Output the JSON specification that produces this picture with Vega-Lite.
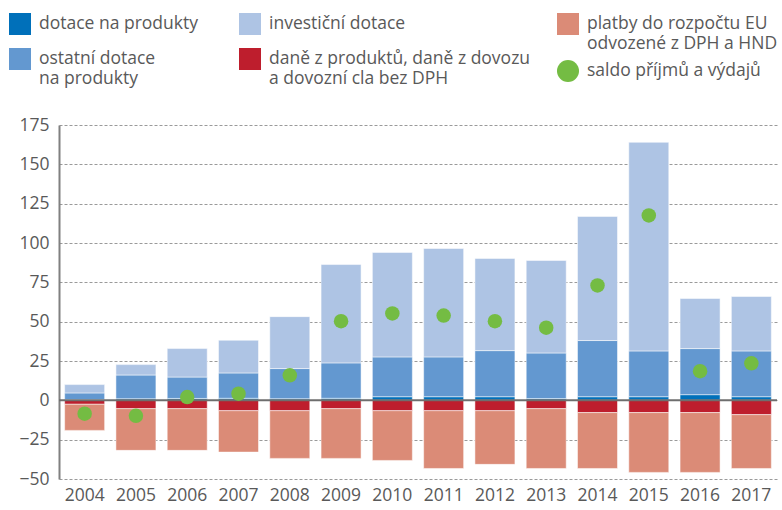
{
  "$schema": "https://vega.github.io/schema/vega-lite/v6.json",
  "width": 718,
  "height": 354,
  "autosize": {"type": "none"},
  "padding": {"left": 59, "top": 125, "right": 5, "bottom": 31},
  "background": "white",
  "config": {
    "font": "Open Sans",
    "view": {"stroke": null},
    "axis": {"labelFont": "Open Sans", "labelFontSize": 17.5, "labelColor": "#595959", "title": null},
    "axisX": {"labelAngle": 0, "domain": false, "ticks": false, "tickSize": 0, "labelPadding": 7, "grid": false},
    "axisY": {"grid": true, "gridDash": [3, 2], "gridColor": "#9a9a9a", "gridWidth": 1,
              "domainColor": "#808080", "domainWidth": 2, "ticks": false, "tickSize": 0, "labelPadding": 10, "labelOverlap": false},
    "legend": {"labelFont": "Open Sans", "labelFontSize": 17.5, "labelColor": "#595959", "labelLimit": 400, "title": null}
  },
  "datasets": {
    "bars": [
      {"year": "2004", "series": "dotace na produkty", "ord": 1, "value": 0.5},
      {"year": "2004", "series": "ostatní dotace|na produkty", "ord": 2, "value": 4.2},
      {"year": "2004", "series": "investiční dotace", "ord": 3, "value": 5.3},
      {"year": "2004", "series": "daně z produktů, daně z dovozu|a dovozní cla bez DPH", "ord": 4, "value": -2.5},
      {"year": "2004", "series": "platby do rozpočtu EU|odvozené z DPH a HND", "ord": 5, "value": -16.6},
      {"year": "2005", "series": "dotace na produkty", "ord": 1, "value": 1.0},
      {"year": "2005", "series": "ostatní dotace|na produkty", "ord": 2, "value": 15.1},
      {"year": "2005", "series": "investiční dotace", "ord": 3, "value": 6.6},
      {"year": "2005", "series": "daně z produktů, daně z dovozu|a dovozní cla bez DPH", "ord": 4, "value": -5.3},
      {"year": "2005", "series": "platby do rozpočtu EU|odvozené z DPH a HND", "ord": 5, "value": -26.5},
      {"year": "2006", "series": "dotace na produkty", "ord": 1, "value": 1.2},
      {"year": "2006", "series": "ostatní dotace|na produkty", "ord": 2, "value": 13.6},
      {"year": "2006", "series": "investiční dotace", "ord": 3, "value": 18.1},
      {"year": "2006", "series": "daně z produktů, daně z dovozu|a dovozní cla bez DPH", "ord": 4, "value": -5.3},
      {"year": "2006", "series": "platby do rozpočtu EU|odvozené z DPH a HND", "ord": 5, "value": -26.5},
      {"year": "2007", "series": "dotace na produkty", "ord": 1, "value": 1.3},
      {"year": "2007", "series": "ostatní dotace|na produkty", "ord": 2, "value": 16.1},
      {"year": "2007", "series": "investiční dotace", "ord": 3, "value": 20.8},
      {"year": "2007", "series": "daně z produktů, daně z dovozu|a dovozní cla bez DPH", "ord": 4, "value": -6.6},
      {"year": "2007", "series": "platby do rozpočtu EU|odvozené z DPH a HND", "ord": 5, "value": -26.3},
      {"year": "2008", "series": "dotace na produkty", "ord": 1, "value": 1.0},
      {"year": "2008", "series": "ostatní dotace|na produkty", "ord": 2, "value": 19.2},
      {"year": "2008", "series": "investiční dotace", "ord": 3, "value": 33.0},
      {"year": "2008", "series": "daně z produktů, daně z dovozu|a dovozní cla bez DPH", "ord": 4, "value": -6.6},
      {"year": "2008", "series": "platby do rozpočtu EU|odvozené z DPH a HND", "ord": 5, "value": -30.3},
      {"year": "2009", "series": "dotace na produkty", "ord": 1, "value": 1.3},
      {"year": "2009", "series": "ostatní dotace|na produkty", "ord": 2, "value": 22.5},
      {"year": "2009", "series": "investiční dotace", "ord": 3, "value": 62.5},
      {"year": "2009", "series": "daně z produktů, daně z dovozu|a dovozní cla bez DPH", "ord": 4, "value": -5.3},
      {"year": "2009", "series": "platby do rozpočtu EU|odvozené z DPH a HND", "ord": 5, "value": -31.6},
      {"year": "2010", "series": "dotace na produkty", "ord": 1, "value": 2.3},
      {"year": "2010", "series": "ostatní dotace|na produkty", "ord": 2, "value": 25.3},
      {"year": "2010", "series": "investiční dotace", "ord": 3, "value": 66.4},
      {"year": "2010", "series": "daně z produktů, daně z dovozu|a dovozní cla bez DPH", "ord": 4, "value": -6.6},
      {"year": "2010", "series": "platby do rozpočtu EU|odvozené z DPH a HND", "ord": 5, "value": -31.6},
      {"year": "2011", "series": "dotace na produkty", "ord": 1, "value": 2.3},
      {"year": "2011", "series": "ostatní dotace|na produkty", "ord": 2, "value": 25.3},
      {"year": "2011", "series": "investiční dotace", "ord": 3, "value": 68.9},
      {"year": "2011", "series": "daně z produktů, daně z dovozu|a dovozní cla bez DPH", "ord": 4, "value": -6.6},
      {"year": "2011", "series": "platby do rozpočtu EU|odvozené z DPH a HND", "ord": 5, "value": -36.7},
      {"year": "2012", "series": "dotace na produkty", "ord": 1, "value": 2.3},
      {"year": "2012", "series": "ostatní dotace|na produkty", "ord": 2, "value": 29.3},
      {"year": "2012", "series": "investiční dotace", "ord": 3, "value": 58.6},
      {"year": "2012", "series": "daně z produktů, daně z dovozu|a dovozní cla bez DPH", "ord": 4, "value": -6.6},
      {"year": "2012", "series": "platby do rozpočtu EU|odvozené z DPH a HND", "ord": 5, "value": -34.1},
      {"year": "2013", "series": "dotace na produkty", "ord": 1, "value": 1.1},
      {"year": "2013", "series": "ostatní dotace|na produkty", "ord": 2, "value": 29.0},
      {"year": "2013", "series": "investiční dotace", "ord": 3, "value": 58.8},
      {"year": "2013", "series": "daně z produktů, daně z dovozu|a dovozní cla bez DPH", "ord": 4, "value": -5.3},
      {"year": "2013", "series": "platby do rozpočtu EU|odvozené z DPH a HND", "ord": 5, "value": -38.0},
      {"year": "2014", "series": "dotace na produkty", "ord": 1, "value": 2.3},
      {"year": "2014", "series": "ostatní dotace|na produkty", "ord": 2, "value": 35.7},
      {"year": "2014", "series": "investiční dotace", "ord": 3, "value": 78.9},
      {"year": "2014", "series": "daně z produktů, daně z dovozu|a dovozní cla bez DPH", "ord": 4, "value": -7.8},
      {"year": "2014", "series": "platby do rozpočtu EU|odvozené z DPH a HND", "ord": 5, "value": -35.5},
      {"year": "2015", "series": "dotace na produkty", "ord": 1, "value": 2.3},
      {"year": "2015", "series": "ostatní dotace|na produkty", "ord": 2, "value": 29.1},
      {"year": "2015", "series": "investiční dotace", "ord": 3, "value": 132.6},
      {"year": "2015", "series": "daně z produktů, daně z dovozu|a dovozní cla bez DPH", "ord": 4, "value": -7.8},
      {"year": "2015", "series": "platby do rozpočtu EU|odvozené z DPH a HND", "ord": 5, "value": -38.0},
      {"year": "2016", "series": "dotace na produkty", "ord": 1, "value": 3.6},
      {"year": "2016", "series": "ostatní dotace|na produkty", "ord": 2, "value": 29.3},
      {"year": "2016", "series": "investiční dotace", "ord": 3, "value": 31.8},
      {"year": "2016", "series": "daně z produktů, daně z dovozu|a dovozní cla bez DPH", "ord": 4, "value": -7.8},
      {"year": "2016", "series": "platby do rozpočtu EU|odvozené z DPH a HND", "ord": 5, "value": -38.0},
      {"year": "2017", "series": "dotace na produkty", "ord": 1, "value": 2.3},
      {"year": "2017", "series": "ostatní dotace|na produkty", "ord": 2, "value": 29.1},
      {"year": "2017", "series": "investiční dotace", "ord": 3, "value": 34.6},
      {"year": "2017", "series": "daně z produktů, daně z dovozu|a dovozní cla bez DPH", "ord": 4, "value": -9.1},
      {"year": "2017", "series": "platby do rozpočtu EU|odvozené z DPH a HND", "ord": 5, "value": -34.2}
    ],
    "saldo": [
      {"year": "2004", "series": "saldo příjmů a výdajů", "value": -8.5},
      {"year": "2005", "series": "saldo příjmů a výdajů", "value": -9.8},
      {"year": "2006", "series": "saldo příjmů a výdajů", "value": 2.1},
      {"year": "2007", "series": "saldo příjmů a výdajů", "value": 4.2},
      {"year": "2008", "series": "saldo příjmů a výdajů", "value": 15.9},
      {"year": "2009", "series": "saldo příjmů a výdajů", "value": 50.3},
      {"year": "2010", "series": "saldo příjmů a výdajů", "value": 55.2},
      {"year": "2011", "series": "saldo příjmů a výdajů", "value": 53.9},
      {"year": "2012", "series": "saldo příjmů a výdajů", "value": 50.3},
      {"year": "2013", "series": "saldo příjmů a výdajů", "value": 46.2},
      {"year": "2014", "series": "saldo příjmů a výdajů", "value": 73.0},
      {"year": "2015", "series": "saldo příjmů a výdajů", "value": 117.5},
      {"year": "2016", "series": "saldo příjmů a výdajů", "value": 18.5},
      {"year": "2017", "series": "saldo příjmů a výdajů", "value": 23.5}
    ]
  },
  "layer": [
    {
      "data": {"name": "bars"},
      "transform": [
        {"stack": "value", "groupby": ["year"], "sort": [{"field": "ord", "order": "ascending"}], "as": ["v0", "v1"], "offset": "zero"},
        {"filter": {"field": "ord", "oneOf": [1, 2]}}
      ],
      "mark": {"type": "bar", "stroke": "white", "strokeWidth": 1, "strokeOpacity": 0.5},
      "encoding": {
        "x": {"field": "year", "type": "ordinal", "scale": {"paddingInner": 0.22, "paddingOuter": 0.11}},
        "y": {"field": "v1", "type": "quantitative", "scale": {"domain": [-50, 175], "nice": false},
              "axis": {"values": [-50, -25, 0, 25, 50, 75, 100, 125, 150, 175]}},
        "y2": {"field": "v0"},
        "color": {"field": "series", "type": "nominal",
                  "scale": {"domain": ["dotace na produkty", "ostatní dotace|na produkty"], "range": ["#0070BA", "#6398D0"]},
                  "legend": {"orient": "none", "legendX": -50, "legendY": -112, "direction": "vertical", "symbolType": "square", "symbolSize": 484, "symbolStrokeWidth": 0, "labelOffset": 8, "rowPadding": 13, "labelExpr": "split(datum.label, '|')",
                             "encode": {"labels": {"update": {"lineHeight": {"value": 22}}}}}}
      }
    },
    {
      "data": {"name": "bars"},
      "transform": [
        {"stack": "value", "groupby": ["year"], "sort": [{"field": "ord", "order": "ascending"}], "as": ["v0", "v1"], "offset": "zero"},
        {"filter": {"field": "ord", "oneOf": [3, 4]}}
      ],
      "mark": {"type": "bar", "stroke": "white", "strokeWidth": 1, "strokeOpacity": 0.5},
      "encoding": {
        "x": {"field": "year", "type": "ordinal"},
        "y": {"field": "v1", "type": "quantitative", "axis": {"values": [-50, -25, 0, 25, 50, 75, 100, 125, 150, 175]}},
        "y2": {"field": "v0"},
        "color": {"field": "series", "type": "nominal",
                  "scale": {"domain": ["investiční dotace", "daně z produktů, daně z dovozu|a dovozní cla bez DPH"], "range": ["#AEC4E4", "#BE1E2D"]},
                  "legend": {"orient": "none", "legendX": 180, "legendY": -112, "direction": "vertical", "symbolType": "square", "symbolSize": 484, "symbolStrokeWidth": 0, "labelOffset": 8, "rowPadding": 13, "labelExpr": "split(datum.label, '|')",
                             "encode": {"labels": {"update": {"lineHeight": {"value": 22}}}}}}
      }
    },
    {
      "data": {"name": "bars"},
      "transform": [
        {"stack": "value", "groupby": ["year"], "sort": [{"field": "ord", "order": "ascending"}], "as": ["v0", "v1"], "offset": "zero"},
        {"filter": {"field": "ord", "oneOf": [5]}}
      ],
      "mark": {"type": "bar", "stroke": "white", "strokeWidth": 1, "strokeOpacity": 0.5},
      "encoding": {
        "x": {"field": "year", "type": "ordinal"},
        "y": {"field": "v1", "type": "quantitative", "axis": {"values": [-50, -25, 0, 25, 50, 75, 100, 125, 150, 175]}},
        "y2": {"field": "v0"},
        "color": {"field": "series", "type": "nominal",
                  "scale": {"domain": ["platby do rozpočtu EU|odvozené z DPH a HND"], "range": ["#DB8B77"]},
                  "legend": {"orient": "none", "legendX": 498, "legendY": -112, "direction": "vertical", "symbolType": "square", "symbolSize": 484, "symbolStrokeWidth": 0, "labelOffset": 8, "labelExpr": "split(datum.label, '|')",
                             "encode": {"labels": {"update": {"lineHeight": {"value": 21}}}}}}
      }
    },
    {
      "data": {"values": [{}]},
      "mark": {"type": "rule", "color": "#6e6e6e", "strokeWidth": 2},
      "encoding": {"y": {"datum": 0, "type": "quantitative", "axis": {"values": [-50, -25, 0, 25, 50, 75, 100, 125, 150, 175]}}}
    },
    {
      "data": {"name": "saldo"},
      "mark": {"type": "point", "shape": "circle", "filled": true, "opacity": 1, "size": 210},
      "encoding": {
        "x": {"field": "year", "type": "ordinal"},
        "y": {"field": "value", "type": "quantitative", "axis": {"values": [-50, -25, 0, 25, 50, 75, 100, 125, 150, 175]}},
        "color": {"field": "series", "type": "nominal",
                  "scale": {"domain": ["saldo příjmů a výdajů"], "range": ["#74BC43"]},
                  "legend": {"orient": "none", "legendX": 498, "legendY": -65, "direction": "vertical", "symbolType": "circle", "symbolSize": 484, "symbolStrokeWidth": 0, "symbolOpacity": 1, "labelOffset": 8}}
      }
    }
  ],
  "resolve": {"scale": {"color": "independent"}}
}
